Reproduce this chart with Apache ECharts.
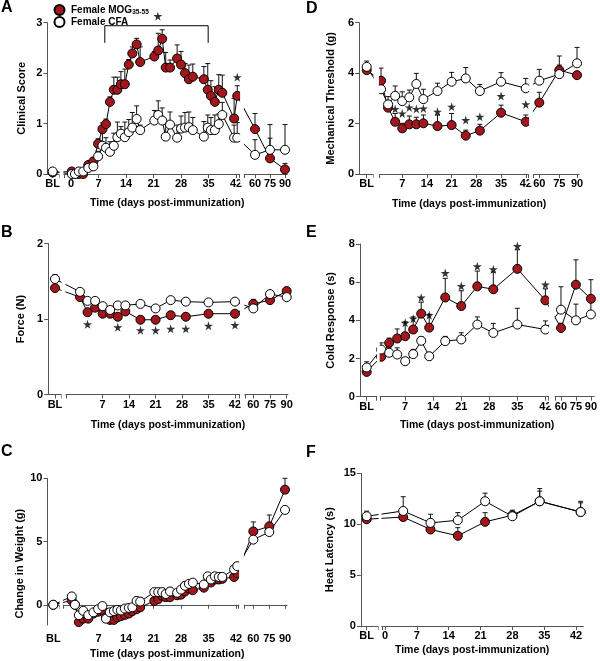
<!DOCTYPE html>
<html><head><meta charset="utf-8">
<script src="https://cdn.jsdelivr.net/npm/echarts@6/dist/echarts.min.js"></script>
<style>html,body{margin:0;padding:0;background:#fff}#c{width:600px;height:661px}</style>
</head><body><div id="c"></div>
<script>
// ---------------- DATA ----------------
// Panel A – clinical score
const A_time = ['BL',0.2,1,2,3.1,4.4,5.7,6.9,8.0,8.9,9.9,10.9,11.8,12.7,13.7,14.7,15.6,16.7,17.6,21.2,22.2,23.2,24.1,25.2,27.0,28.0,29.0,30.0,31.0,33.8,34.8,35.6,36.6,37.6,38.5,41.5,42.3,60,75,90];
const A_mog = [0.03,0.05,0,0,0,0.18,0.25,0.6,0.89,0.99,1.43,1.67,1.67,1.78,1.78,2.17,2.39,2.57,2.22,2.33,2.45,2.68,2.11,2.11,2.29,2.17,2.0,1.88,1.93,1.88,1.67,1.55,1.43,1.67,1.61,1.1,1.55,0.89,0.31,0.09];
const A_mog_err = [0,0.02,0,0,0.02,0.05,0.08,0.1,0.12,0.1,0.1,0.25,0.25,0.25,0.3,0.1,0.13,0.12,0.3,0.1,0.34,0.18,0.3,0.15,0.27,0.26,0.19,0.28,0.25,0.25,0.52,0.3,0.3,0.3,0.35,0.4,0.2,0.31,0.4,0.12];
const A_cfa = [0.05,0,0,0.05,0.05,0.12,0.15,0.35,0.56,0.52,0.44,0.56,0.73,0.8,0.73,0.83,0.92,1.09,0.87,1.06,1.17,1.06,0.74,0.98,0.72,0.9,0.92,0.93,0.87,0.74,0.92,0.87,0.87,0.99,1.17,0.72,0.72,0.38,0.48,0.48];
const A_cfa_err = [0.05,0,0,0.02,0.03,0.05,0.1,0.1,0.25,0.2,0.2,0.25,0.3,0.14,0.3,0.25,0.3,0.26,0.1,0.2,0.28,0.25,0.25,0.25,0.25,0.25,0.3,0.3,0.25,0.3,0.25,0.25,0.3,0.2,0.25,0.25,0.3,0.3,0.5,0.5];
const A_ticks = ['BL',0,7,14,21,28,35,42,60,75,90];
const A_star_time = [22.1,42.3];
const A_star_val = [3.13,1.92];
const A_bracket_time = [8.6,8.6,34.9,34.9];
const A_bracket_val = [2.6,2.94,2.94,2.6];

// Panel B – force
const B_time = ['BL',1,3,5,7,9,11,13,17,21,25,29,35,42,60,75,90];
const B_mog = [1.41,1.29,1.09,1.15,1.07,1.07,1.03,1.10,0.99,0.99,1.05,1.03,1.07,1.07,1.2,1.25,1.37];
const B_mog_err = [0.03,0.03,0.03,0.03,0.03,0.03,0.03,0.03,0.03,0.03,0.03,0.03,0.03,0.03,0.06,0.03,0.04];
const B_cfa = [1.53,1.36,1.24,1.24,1.17,1.12,1.18,1.18,1.2,1.14,1.25,1.23,1.22,1.23,1.14,1.33,1.29];
const B_cfa_err = [0.06,0.03,0.03,0.03,0.03,0.03,0.03,0.03,0.03,0.03,0.03,0.03,0.03,0.03,0.03,0.04,0.03];
const B_ticks = ['BL',7,14,21,28,35,42,60,75,90];
const B_star_time = [3,11,17,21,25,29,35,42];
const B_star_val = [0.93,0.89,0.85,0.85,0.87,0.87,0.91,0.92];

// Panel C – change in weight
const C_time = A_time;
const C_mog = [0,0.34,0.0,-1.37,-1.1,-1.1,-0.7,-0.55,-0.45,-1.0,-1.2,-1.2,-1.0,-0.9,-0.8,-0.7,-0.5,-0.35,-0.2,0.3,0.45,0.7,0.6,0.6,0.75,0.8,1.05,1.3,1.15,1.35,1.8,1.76,2.0,2.0,2.05,2.2,2.5,5.8,6.2,9.1];
const C_mog_err = [0,0.05,0,0.1,0.1,0.1,0.1,0.15,0.15,0.15,0.15,0.15,0.15,0.15,0.15,0.15,0.15,0.15,0.15,0.15,0.15,0.15,0.15,0.15,0.15,0.15,0.15,0.15,0.15,0.15,0.15,0.15,0.15,0.15,0.15,0.15,0.15,0.75,0.9,0.9];
const C_cfa = [0,0.66,0.0,-0.82,-0.48,-0.82,-0.6,-0.35,-0.1,-1.1,-0.6,-0.5,-0.4,-0.45,-0.3,-0.25,-0.2,0.3,0.25,1.0,1.0,1.0,0.85,1.05,0.95,1.2,1.5,1.65,1.75,1.6,2.25,2.0,2.25,2.2,2.2,2.8,3.05,5.15,5.75,7.5];
const C_cfa_err = [0,0.1,0,0.15,0.15,0.15,0.15,0.25,0.25,0.2,0.25,0.25,0.25,0.25,0.25,0.25,0.25,0.3,0.3,0.3,0.3,0.3,0.3,0.3,0.2,0.2,0.2,0.2,0.2,0.2,0.25,0.2,0.25,0.25,0.2,0.25,0.3,0,0,0];
const C_ticks = ['BL',7,14,21,28,35,42,60,75,90];

// Panel D – mechanical threshold
const D_time = B_time;
const D_mog = [4.12,3.7,2.63,2.07,1.81,1.97,1.97,2.01,1.9,1.94,1.52,1.72,2.43,2.07,2.83,4.12,3.92];
const D_mog_err = [0,0.5,0.1,0.33,0.2,0.33,0.28,0.33,0.44,0.46,0.22,0.25,0.3,0.27,0.41,0.56,0];
const D_cfa = [4.25,3.36,2.76,3.1,2.89,3.04,3.57,2.97,3.29,3.66,3.79,3.29,3.66,3.4,3.7,3.96,4.39];
const D_cfa_err = [0.23,0.3,0.31,0.39,0.37,0.29,0.42,0.39,0.31,0.37,0.43,0.26,0.36,0.39,0.45,0.36,0.63];
const D_ticks = ['BL',7,14,21,28,35,42,60,75,90];
const D_star_time = [5,7,9,11,13,17,21,25,29,35,42];
const D_star_val = [2.58,2.4,2.64,2.58,2.6,2.47,2.67,2.14,2.27,3.09,2.76];

// Panel E – cold response
const E_time = B_time;
const E_mog = [1.3,2.09,2.82,3.05,3.17,3.52,4.35,3.62,5.2,4.75,5.78,5.63,6.7,5.05,3.6,5.87,5.13];
const E_mog_err = [0,0.1,0.25,0.5,0.75,0.66,0.6,0.7,1.0,0.8,0.8,0.9,1.0,0.6,0.25,1.3,1.0];
const E_cfa = [1.53,2.47,2.3,2.21,1.86,2.23,2.93,2.12,2.91,3.0,3.78,3.34,3.78,3.52,4.56,4.0,4.31];
const E_cfa_err = [0.3,0.35,0.3,0.35,0,0.25,0.2,0.2,0.25,0.35,0.4,0.5,0.85,0.45,1.2,0.85,0.8];
const E_ticks = ['BL',7,14,21,28,35,42,60,75,90];
const E_star_time = [7,9,11,13,17,21,25,29,35,42];
const E_star_val = [3.87,4.09,5.19,4.27,6.48,5.8,6.83,6.67,7.89,5.87];

// Panel F – heat latency
const F_time = ['BL',4,10,16,22,28,34,43];
const F_mog = [10.49,10.7,9.48,8.86,10.23,10.88,12.25,11.2];
const F_mog_err = [0,0.1,0.4,0.8,0.9,0.3,1.0,0.9];
const F_cfa = [10.78,11.3,10.13,10.39,12.25,10.78,12.25,11.2];
const F_cfa_err = [0.5,1.4,0.85,0.75,0.8,0.6,1.25,1.05];
const F_ticks = ['BL',0,7,14,21,28,35,42];

// ---------------- LAYOUT ----------------
const FONT = 'Liberation Sans, Arial, Helvetica, sans-serif';
const RED = '#a3171c';
const INK = '#000';
const AXIS = '#555';
const STAR = 'path://M50,0 L61,35 L98,35 L68,57 L79,91 L50,70 L21,91 L32,57 L2,35 L39,35 Z';

const PANELS = [
  {key:'A', zero:71, s:3.93, xmin:-6, xmax:55, blPx:52.7, latePx:{60:255,75:270,90:285}, gapsPx:[[59,64],[239.5,244.5]],
   top:22.7, height:151.3, ymin:0, ymax:3, yticks:[0,1,2,3], ticks:A_ticks, yname:'Clinical Score', ynameGap:20, ynamePad:[0,0,0,0], xnameGap:24, lm:4.5,
   time:A_time, mog:A_mog, mogErr:A_mog_err, cfa:A_cfa, cfaErr:A_cfa_err, starT:A_star_time, starV:A_star_val, letterPos:[1,0]},
  {key:'B', zero:76.2, s:3.78, xmin:-7.4, xmax:56, blPx:55, latePx:{60:253.3,75:270,90:286.7}, gapsPx:[[61,66],[239.5,245]],
   top:243.5, height:151, ymin:0, ymax:2, yticks:[0,1,2], ticks:B_ticks, yname:'Force (N)', ynameGap:22, ynamePad:[0,0,0,0], xnameGap:25, lm:4.5,
   time:B_time, mog:B_mog, mogErr:B_mog_err, cfa:B_cfa, cfaErr:B_cfa_err, starT:B_star_time, starV:B_star_val, letterPos:[1,225]},
  {key:'C', zero:71, s:3.93, xmin:-6, xmax:55, blPx:53.3, latePx:{60:253.3,75:269.3,90:285}, gapsPx:[[59,63.5],[238.5,244.5]],
   top:478.3, height:169.4, ymin:-1.6, ymax:10, yticks:[0,5,10], ticks:C_ticks, yname:'Change in Weight (g)', ynameGap:22, ynamePad:[0,24,0,0], xnameGap:24, lm:8.5,
   time:C_time, mog:C_mog, mogErr:C_mog_err, cfa:C_cfa, cfaErr:C_cfa_err, starT:[], starV:[], letterPos:[1,444]},
  {key:'D', zero:377.5, s:3.53, xmin:-5.2, xmax:57.1, blPx:366.7, latePx:{60:539.3,75:559.3,90:577}, gapsPx:[[373,379.5],[528.5,533.5]],
   top:22.7, height:151.3, ymin:0, ymax:6, yticks:[0,2,4,6], ticks:D_ticks, yname:'Mechanical Threshold (g)', ynameGap:23, ynamePad:[0,0,0,0], xnameGap:25, lm:4.5,
   time:D_time, mog:D_mog, mogErr:D_mog_err, cfa:D_cfa, cfaErr:D_cfa_err, starT:D_star_time, starV:D_star_val, letterPos:[306,1]},
  {key:'E', zero:377.2, s:4.02, xmin:-4.3, xmax:54.2, blPx:366.7, latePx:{60:561.7,75:576.7,90:591.7}, gapsPx:[[376.5,380.3],[549,556]],
   top:244, height:152.7, ymin:0, ymax:8, yticks:[0,2,4,6,8], ticks:E_ticks, yname:'Cold Response (s)', ynameGap:23, ynamePad:[0,0,0,0], xnameGap:23, lm:4.5,
   time:E_time, mog:E_mog, mogErr:E_mog_err, cfa:E_cfa, cfaErr:E_cfa_err, starT:E_star_time, starV:E_star_val, letterPos:[306,225]},
  {key:'F', zero:385, s:4.55, xmin:-5.3, xmax:43.6, blPx:366.7, latePx:{}, gapsPx:[[378,382]],
   top:473.3, height:152.7, ymin:0, ymax:15, yticks:[0,5,10,15], ticks:F_ticks, yname:'Heat Latency (s)', ynameGap:25, ynamePad:[0,0,0,0], xnameGap:18.5, lm:4.5,
   time:F_time, mog:F_mog, mogErr:F_mog_err, cfa:F_cfa, cfaErr:F_cfa_err, starT:[], starV:[], letterPos:[306,445]}
];

function pos(P, t){
  if (t === 'BL') return (P.blPx - P.zero)/P.s;
  if (t >= 50) return (P.latePx[t] - P.zero)/P.s;
  return t;
}
const pxToAxis = (P, px) => (px - P.zero)/P.s;

function errRender(params, api){
  const x = api.value(0), y = api.value(1), e = api.value(2);
  if (!(e > 0)) return;
  const p0 = api.coord([x, y]), p1 = api.coord([x, y + e]);
  return {type:'group', children:[
    {type:'line', shape:{x1:p0[0], y1:p0[1], x2:p1[0], y2:p1[1]}, style:{stroke:'#111', lineWidth:1}},
    {type:'line', shape:{x1:p1[0]-2.5, y1:p1[1], x2:p1[0]+2.5, y2:p1[1]}, style:{stroke:'#111', lineWidth:1}}
  ]};
}
function maskRender(params, api){
  const a = api.coord([api.value(0), 0])[0], b = api.coord([api.value(1), 0])[0];
  const cs = params.coordSys;
  return {type:'rect', shape:{x:a+0.6, y:cs.y, width:Math.max(0,b-a-1.2), height:cs.height+9}, style:{fill:'#fff'}};
}

const grids=[], xAxes=[], yAxes=[], series=[], titles=[];
const txt = {fontFamily:FONT, fontWeight:'bold', color:'#000'};

PANELS.forEach((P, i) => {
  const left = P.zero + P.s*P.xmin;
  const width = P.s*(P.xmax - P.xmin);
  grids.push({left:left, top:P.top, width:width, height:P.height, containLabel:false});
  const labelPos = P.ticks.map(t => pos(P, t));
  const tickPos = labelPos.concat(...P.gapsPx.map(g => [pxToAxis(P,g[0]), pxToAxis(P,g[1])]));
  xAxes.push({
    type:'value', gridIndex:i, min:P.xmin, max:P.xmax,
    axisLine:{show:true, onZero:true, lineStyle:{color:AXIS, width:1}},
    axisTick:{show:true, length:4, inside:false, customValues:tickPos, lineStyle:{color:AXIS}},
    axisLabel:{show:true, customValues:labelPos, margin:P.lm, fontSize:11, ...txt,
      formatter:(v)=>{ let best='', bd=1e9; labelPos.forEach((p,k)=>{const d=Math.abs(p-v); if(d<bd){bd=d;best=String(P.ticks[k]);}}); return bd<0.05?best:''; }},
    splitLine:{show:false},
    name:'Time (days post-immunization)', nameLocation:'middle', nameGap:P.xnameGap,
    nameTextStyle:{fontSize:10.5, ...txt}
  });
  yAxes.push({
    type:'value', gridIndex:i, min:P.ymin, max:P.ymax,
    axisLine:{show:true, onZero:false, lineStyle:{color:AXIS, width:1}},
    axisTick:{show:true, length:4, customValues:P.yticks, lineStyle:{color:AXIS}},
    axisLabel:{show:true, customValues:P.yticks, margin:5, fontSize:11, ...txt},
    splitLine:{show:false},
    name:P.yname, nameLocation:'middle', nameGap:P.ynameGap,
    nameTextStyle:{fontSize:11, padding:P.ynamePad, ...txt}
  });
  titles.push({text:P.key, left:P.letterPos[0], top:P.letterPos[1], padding:0,
    textStyle:{fontSize:16, fontWeight:'bold', fontFamily:FONT, color:'#000'}});

  const mk = (vals) => P.time.map((t,k) => [pos(P,t), vals[k]]);
  const mkErr = (vals, errs) => P.time.map((t,k) => [pos(P,t), vals[k], errs[k]]);
  series.push({type:'custom', xAxisIndex:i, yAxisIndex:i, renderItem:errRender, data:mkErr(P.mog,P.mogErr), z:2, clip:false, silent:true});
  series.push({type:'custom', xAxisIndex:i, yAxisIndex:i, renderItem:errRender, data:mkErr(P.cfa,P.cfaErr), z:2, clip:false, silent:true});
  series.push({type:'line', name:'MOG', xAxisIndex:i, yAxisIndex:i, data:mk(P.mog), symbol:'circle', symbolSize:9, showSymbol:true,
    lineStyle:{color:INK, width:1}, itemStyle:{color:RED, borderColor:'#000', borderWidth:1}, z:3, clip:false, silent:true});
  series.push({type:'line', name:'CFA', xAxisIndex:i, yAxisIndex:i, data:mk(P.cfa), symbol:'circle', symbolSize:9, showSymbol:true,
    lineStyle:{color:INK, width:1}, itemStyle:{color:'#fff', borderColor:'#000', borderWidth:1}, z:3, clip:false, silent:true});
  series.push({type:'custom', xAxisIndex:i, yAxisIndex:i, renderItem:maskRender,
    data:P.gapsPx.map(g => [pxToAxis(P,g[0]), pxToAxis(P,g[1])]), z:5, clip:false, silent:true});
  if (P.starT.length) {
    series.push({type:'scatter', xAxisIndex:i, yAxisIndex:i, data:P.starT.map((t,k)=>[pos(P,t), P.starV[k]]),
      symbol:STAR, symbolSize:9, itemStyle:{color:'#000'}, z:6, clip:false, silent:true});
  }
  if (P.key === 'A') {
    series.push({type:'line', xAxisIndex:i, yAxisIndex:i, data:A_bracket_time.map((t,k)=>[t, A_bracket_val[k]]),
      symbol:'none', lineStyle:{color:'#000', width:1}, z:6, clip:false, silent:true});
  }
});

const chart = echarts.init(document.getElementById('c'), null, {renderer:'canvas'});
chart.setOption({
  animation:false,
  backgroundColor:'#fff',
  title:titles,
  legend:{
    data:[{name:'MOG', icon:'circle'}, {name:'CFA', icon:'circle'}],
    orient:'vertical', left:53.5, top:4, padding:0, itemWidth:13, itemHeight:10, itemGap:0, z:20,
    selectedMode:false,
    formatter:(n)=> n==='MOG' ? 'Female MOG{sub|35-55}' : 'Female CFA',
    textStyle:{fontSize:10, lineHeight:12, fontWeight:'bold', fontFamily:FONT, color:'#000',
      rich:{sub:{fontSize:6.5, lineHeight:12, verticalAlign:'bottom', fontWeight:'bold', fontFamily:FONT, color:'#000'}}}
  },
  grid:grids, xAxis:xAxes, yAxis:yAxes, series:series
});
</script>
</body></html>
